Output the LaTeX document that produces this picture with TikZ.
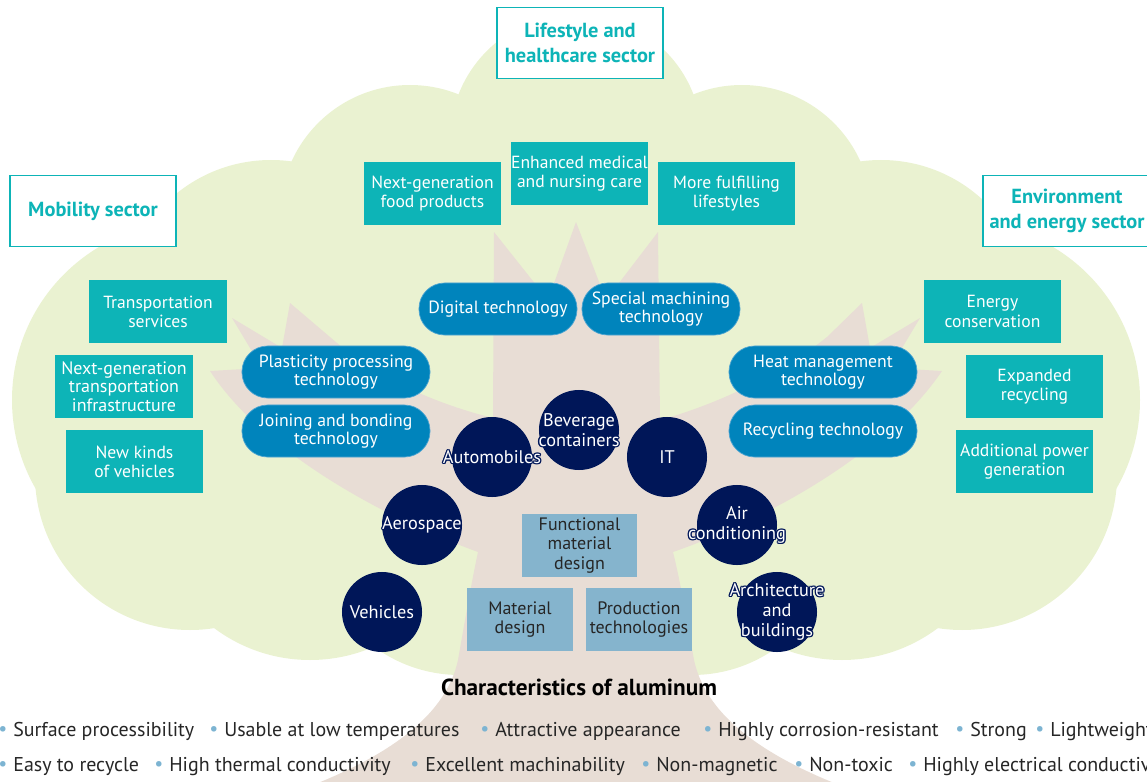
\documentclass[tikz,border=0pt]{standalone}
\usepackage{fontspec}
\setmainfont{PT Sans}
\usetikzlibrary{calc}

\definecolor{cloudgreen}{RGB}{234,242,209}
\definecolor{trunkbeige}{RGB}{232,221,213}
\definecolor{tealc}{RGB}{13,180,183}
\definecolor{pillblue}{RGB}{0,132,188}
\definecolor{pilledge}{RGB}{80,165,210}
\definecolor{navyc}{RGB}{0,22,88}
\definecolor{paleblue}{RGB}{133,180,205}
\definecolor{bulblue}{RGB}{125,180,210}

% white words with a navy rim
\newcommand{\halo}[1]{\leavevmode
  \rlap{\color{navyc}\hspace*{-.9pt}#1}%
  \rlap{\color{navyc}\hspace*{.9pt}#1}%
  \rlap{\color{navyc}\raisebox{.9pt}{#1}}%
  \rlap{\color{navyc}\raisebox{-.9pt}{#1}}%
  \rlap{\color{navyc}\hspace*{-.65pt}\raisebox{.65pt}{#1}}%
  \rlap{\color{navyc}\hspace*{.65pt}\raisebox{.65pt}{#1}}%
  \rlap{\color{navyc}\hspace*{-.65pt}\raisebox{-.65pt}{#1}}%
  \rlap{\color{navyc}\hspace*{.65pt}\raisebox{-.65pt}{#1}}%
  #1}
\newcommand{\featdot}{\textcolor{bulblue}{\raisebox{.1ex}{\textbullet}}\hspace{0.3em}}

\tikzset{
  sector/.style={draw=tealc, line width=1pt, fill=white, text=tealc,
    font=\fontsize{14.5}{17.5}\selectfont\bfseries, align=center, inner sep=0pt,
    minimum width=4.15cm, minimum height=1.78cm},
  need/.style={fill=tealc, text=white, font=\fontsize{12.5}{13.6}\selectfont,
    align=center, inner sep=0pt, minimum width=3.425cm, minimum height=1.575cm},
  techpill/.style={fill=pillblue, draw=pilledge, line width=0.5pt,
    rounded corners=0.64cm, text=white, font=\fontsize{12.6}{13.2}\selectfont,
    align=center, inner sep=0pt, minimum width=3.95cm, minimum height=1.3cm},
  market/.style={circle, fill=navyc, inner sep=0pt, minimum size=2cm},
  markettext/.style={text=white, font=\fontsize{13}{14.2}\selectfont,
    align=center, inner sep=0pt},
  design/.style={fill=paleblue, text=black!85, font=\fontsize{12.8}{13.6}\selectfont,
    align=center, inner sep=0pt, minimum width=2.65cm, minimum height=1.575cm},
  feature/.style={anchor=base west, inner sep=0pt,
    font=\fontsize{14.2}{16}\selectfont, text=black!85},
}

\begin{document}
\begin{tikzpicture}[x=0.025cm, y=-0.025cm]

\useasboundingbox (0,0) rectangle (1147,782);
\clip (0,0) rectangle (1147,782);

% crown
\foreach \cx/\cy/\r in {576/140/126, 410/215/130, 742/215/130,
    271/310/150, 881/310/150, 190/400/178, 962/400/178,
    190/475/155, 962/475/155, 310/500/160, 842/500/160,
    460/530/145, 692/530/145, 576/400/250}
  \fill[cloudgreen] (\cx,\cy) circle (\r);

% trunk and branches
\fill[trunkbeige] (300,790)
  .. controls (380,760) and (445,720) .. (458,660)
  .. controls (465,620) and (472,580) .. (478,552)
  .. controls (390,520) and (265,455) .. (210,371)
  -- (262,368) -- (232,318) -- (282,348) -- (290,303) -- (337,343)
  .. controls (380,380) and (440,405) .. (493,418)
  -- (494,232) -- (548,300) -- (576,222) -- (606,300) -- (658,232)
  -- (660,420)
  .. controls (715,405) and (780,375) .. (827,337)
  -- (862,303) -- (870,348) -- (920,318) -- (890,368) -- (942,371)
  .. controls (885,455) and (765,520) .. (673,552)
  .. controls (680,580) and (687,620) .. (694,660)
  .. controls (707,720) and (772,760) .. (852,790)
  -- cycle;

% sectors
\node[sector] (lifestyle) at (580,43) {Lifestyle and\\healthcare sector};
\node[sector] (mobility) at (93,211) {Mobility sector};
\node[sector, minimum width=4.2cm] (environment) at (1067,211) {Environment\\and energy sector};

% needs
\node[need] (foodprod) at (432.5,193.5) {Next-generation\\food products};
\node[need] (medcare) at (579.5,173.5) {Enhanced medical\\and nursing care};
\node[need] (lifestyles) at (726.5,193.5) {More fulfilling\\lifestyles};
\node[need] (transserv) at (158,311.5) {Transportation\\services};
\node[need, font=\fontsize{12.8}{13}\selectfont] (transinfra) at (124,386.5) {Next-generation\\transportation\\infrastructure};
\node[need] (newvehicles) at (134.5,461.5) {New kinds\\of vehicles};
\node[need] (energycons) at (992.5,311.5) {Energy\\conservation};
\node[need] (exprecycl) at (1034.5,386.5) {Expanded\\recycling};
\node[need] (addpower) at (1024.5,461.5) {Additional power\\generation};

% technologies
\node[techpill] (digital) at (498,309) {Digital technology};
\node[techpill] (specmach) at (661,309) {Special machining\\technology};
\node[techpill, minimum width=4.7cm] (plasticity) at (336,372) {Plasticity processing\\technology};
\node[techpill, minimum width=4.7cm] (joining) at (336,431) {Joining and bonding\\technology};
\node[techpill, minimum width=4.7cm] (heatmgmt) at (823,372) {Heat management\\technology};
\node[techpill, minimum width=4.7cm] (recycltech) at (823,431) {Recycling technology};

% markets
\node[market, label={[markettext]center:{\halo{Beverage}\\\halo{containers}}}] (beverage) at (579,430) {};
\node[market, label={[markettext]center:{\halo{Automobiles}}}] (automobiles) at (492,457) {};
\node[market, label={[markettext]center:{\halo{IT}}}] (it) at (667,457) {};
\node[market, label={[markettext]center:{\halo{Aerospace}}}] (aerospace) at (422,525) {};
\node[market, label={[markettext]center:{\halo{Air}\\\halo{conditioning}}}] (aircond) at (737,525) {};
\node[market, label={[markettext]center:{\halo{Vehicles}}}] (vehicles) at (382,612) {};
\node[market, label={[markettext]center:{\halo{Architecture}\\\halo{and}\\\halo{buildings}}}] (architecture) at (777,612) {};

% designs
\node[design, minimum width=2.875cm] (funcdesign) at (579.5,545.5) {Functional\\material\\design};
\node[design] (matdesign) at (520,619.5) {Material\\design};
\node[design] (prodtech) at (639,619.5) {Production\\technologies};

% characteristics
\node[font=\fontsize{16.5}{18}\selectfont\bfseries, text=black] (title) at (579,687) {Characteristics of aluminum};

\node[feature] (c1) at (-2,736) {\featdot Surface processibility};
\node[feature] (c2) at (209,736) {\featdot Usable at low temperatures};
\node[feature] (c3) at (480,736) {\featdot Attractive appearance};
\node[feature] (c4) at (703,736) {\featdot Highly corrosion-resistant};
\node[feature] (c5) at (955,736) {\featdot Strong};
\node[feature] (c6) at (1035,736) {\featdot Lightweight};
\node[feature] (c7) at (-2,771) {\featdot Easy to recycle};
\node[feature] (c8) at (154,771) {\featdot High thermal conductivity};
\node[feature] (c9) at (410,771) {\featdot Excellent machinability};
\node[feature] (c10) at (641,771) {\featdot Non-magnetic};
\node[feature] (c11) at (794,771) {\featdot Non-toxic};
\node[feature] (c12) at (908,771) {\featdot Highly electrical conductivity};

\end{tikzpicture}
\end{document}
